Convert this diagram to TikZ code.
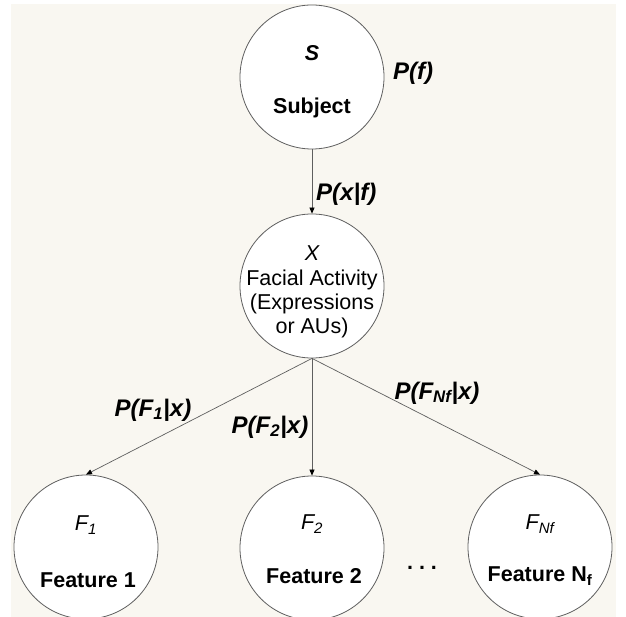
\documentclass[tikz,border=0pt]{standalone}
\usepackage{fontspec}
\setmainfont{Liberation Sans}
\usetikzlibrary{arrows.meta}
\definecolor{paper}{RGB}{249,247,241}
\definecolor{rim}{RGB}{95,95,95}

\begin{document}
\begin{tikzpicture}[x=1pt,y=-1pt,
  var/.style={circle, draw=rim, line width=0.8pt, fill=white,
              minimum size=144pt, inner sep=0pt},
  link/.style={draw=rim, line width=0.7pt,
               -{Triangle[length=6pt,width=5pt,color=black]}},
  body/.style={font=\fontsize{21.5}{24}\selectfont, align=center, inner sep=0pt},
  heavy/.style={font=\fontsize{21.5}{24}\selectfont\bfseries, inner sep=0pt},
  sym/.style={font=\fontsize{21.5}{24}\selectfont\itshape, inner sep=0pt},
  prob/.style={font=\fontsize{24}{26}\selectfont\bfseries\itshape, inner sep=0pt}]

  % page and paper
  \useasboundingbox (0,0) rectangle (626,617);
  \fill[white] (0,0) rectangle (626,617);
  \fill[paper] (11,4) rectangle (616,617);

  % variables
  \node[var] (S)  at (312,77)  {};
  \node[var] (X)  at (312,286) {};
  \node[var] (F1) at (86,547)  {};
  \node[var] (F2) at (312,548) {};
  \node[var] (FN) at (540,547) {};

  % texts inside the circles
  \node[sym, font=\fontsize{21.5}{24}\selectfont\bfseries\itshape] (Sl) at ([yshift=24pt]S.center) {S};
  \node[heavy] (St) at ([yshift=-31pt]S.center) {Subject};

  \node[sym] (Xl) at ([yshift=33pt]X.center) {X};
  \node[body, anchor=north] (Xt) at ([yshift=16pt]X.center)
       {Facial Activity\\(Expressions\\or AUs)};

  \node[sym] (F1l) at ([yshift=22pt]F1.center) {F\textsubscript{1}};
  \node[heavy] (F1t) at ([xshift=2pt,yshift=-33pt]F1.center) {Feature 1};

  \node[sym] (F2l) at ([yshift=24pt]F2.center) {F\textsubscript{2}};
  \node[heavy] (F2t) at ([xshift=2pt,yshift=-28pt]F2.center) {Feature 2};

  \node[sym] (FNl) at ([yshift=23pt]FN.center) {F\textsubscript{Nf}};
  \node[heavy] (FNt) at ([yshift=-29pt]FN.center) {Feature N\textsubscript{f}};

  % ellipsis between the feature nodes
  \node[heavy] (dots) at (422,568) {.\hspace{6pt}.\hspace{6pt}.};

  % dependencies
  \draw[link] (S) -- (X);
  \draw[link] (X.south) -- (F1.north);
  \draw[link] (X.south) -- (F2.north);
  \draw[link] (X.south) -- (FN.north);

  % conditional probabilities
  \node[prob, anchor=west] (pf)  at (393,73)  {P(f)};
  \node[prob, anchor=west] (pxf) at (316,194) {P(x|f)};
  \node[prob] (p1) at (153,410) {P(F\textsubscript{1}|x)};
  \node[prob] (p2) at (270,427) {P(F\textsubscript{2}|x)};
  \node[prob] (pN) at (437,393) {P(F\textsubscript{Nf}|x)};
\end{tikzpicture}
\end{document}
